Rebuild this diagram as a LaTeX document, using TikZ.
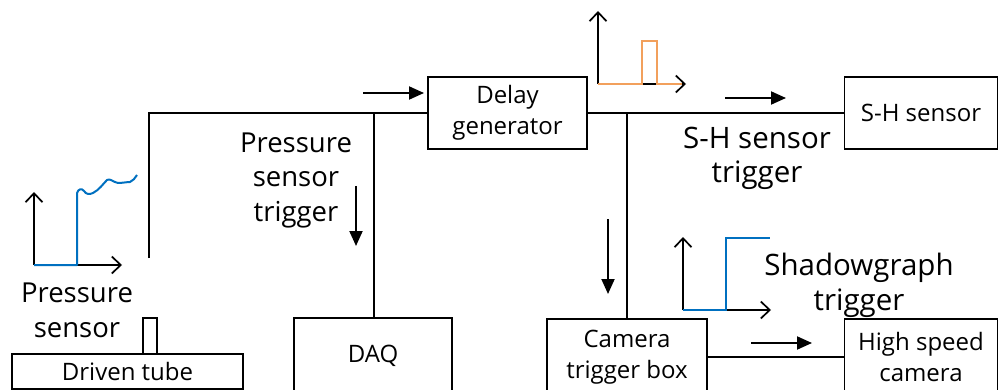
\documentclass[tikz,border=0pt]{standalone}
\usepackage{fontspec}
\setmainfont{Open Sans}
\usetikzlibrary{arrows.meta}
\definecolor{sigblue}{RGB}{0,112,192}
\definecolor{sigorange}{RGB}{242,160,92}
\tikzset{
  box/.style={draw, line width=1.7pt, inner sep=0pt, align=center,
    font=\fontsize{24}{31}\selectfont},
  wire/.style={line width=1.8pt},
  flow/.style={line width=2pt, -{Triangle[length=15pt,width=13pt]}},
  axis/.style={line width=1.7pt, -{Straight Barb[length=9pt,width=17pt]}},
  lblA/.style={align=center, inner sep=0pt, anchor=base, font=\fontsize{27.5}{35}\selectfont},
  lblB/.style={align=center, inner sep=0pt, anchor=base, font=\fontsize{29.5}{35}\selectfont},
  sig/.style={line width=2pt, line join=round}
}
\begin{document}
\begin{tikzpicture}[x=1pt,y=-1pt]
\useasboundingbox (0,0) rectangle (998,390);
\clip (0,0) rectangle (998,390);
% boxes
\node[box, minimum width=231pt, minimum height=35pt] (tube) at (127.5,371.5) {Driven tube};
\node[box, minimum width=14pt, minimum height=36pt] (psens) at (150,336) {};
\node[box, minimum width=158pt, minimum height=76pt] (daq) at (373,356) {DAQ};
\node[box, minimum width=159pt, minimum height=72pt] (delay) at (507.5,113) {Delay\\generator};
\node[box, minimum width=153pt, minimum height=72pt] (sh) at (921,113) {S-H sensor};
\node[box, minimum width=160pt, minimum height=76pt] (cam) at (627,357) {Camera\\trigger box};
\node[box, minimum width=153pt, minimum height=76pt] (hs) at (921,357) {High speed\\camera};
% junctions
\coordinate (pline) at (149,258);
\coordinate (j1) at (374,113);
\coordinate (j2) at (627,113);
% wires
\draw[wire] (pline) -- (pline |- delay.west) -- (delay.west);
\draw[wire] (j1) -- (j1 |- daq.north);
\draw[wire] (delay.east) -- (sh.west);
\draw[wire] (j2) -- (j2 |- cam.north);
\draw[wire] (cam.east) -- (hs.west);
% flow arrows
\coordinate (a1s) at (363,93); \coordinate (a1e) at (424,93);
\draw[flow] (a1s) -- (a1e);
\coordinate (a2s) at (725,98); \coordinate (a2e) at (786,98);
\draw[flow] (a2s) -- (a2e);
\coordinate (a3s) at (751,343); \coordinate (a3e) at (812,343);
\draw[flow] (a3s) -- (a3e);
\coordinate (a4s) at (356,186); \coordinate (a4e) at (356,246);
\draw[flow] (a4s) -- (a4e);
\coordinate (a5s) at (608,219); \coordinate (a5e) at (608,294);
\draw[flow] (a5s) -- (a5e);
% labels (base = baseline of last line)
\node[lblA] (plabel) at (77,337) {Pressure\\sensor};
\node[lblA] (ptrig) at (296,222) {Pressure\\sensor\\trigger};
\node[lblB] (shtrig) at (757,183) {S-H sensor\\trigger};
\node[lblB] (sgtrig) at (859,310) {Shadowgraph\\trigger};
% pressure plot
\coordinate (po) at (34,265);
\coordinate (py) at (34,192);
\coordinate (px) at (122,265);
\draw[axis] (po) -- (py);
\draw[axis] (po) -- (px);
\draw[sig, sigblue] (po) -- (77,265) -- (77,193)
  .. controls (78,189) and (82,188) .. (84,191)
  .. controls (86,194) and (89,195) .. (93,193)
  .. controls (99,190) and (103,184) .. (107,180)
  .. controls (110,178) and (113,182) .. (118,183)
  .. controls (122,183) and (127,182) .. (130,182)
  .. controls (133,181) and (135,178) .. (137,175);
% orange pulse plot
\coordinate (oo) at (598,84);
\coordinate (oy) at (598,11);
\coordinate (ox) at (686,84);
\draw[axis] (oo) -- (oy);
\draw[axis] (oo) -- (ox);
\draw[sig, sigorange, line join=miter] (oo) -- (642,84) -- (642,41) -- (657,41) -- (657,84) -- (682,84);
% blue step plot
\coordinate (bo) at (683,310);
\coordinate (by) at (683,237);
\coordinate (bx) at (771,310);
\draw[axis] (bo) -- (by);
\draw[axis] (bo) -- (bx);
\draw[sig, sigblue, line join=miter] (bo) -- (726,310) -- (726,238) -- (770,238);
\end{tikzpicture}
\end{document}
